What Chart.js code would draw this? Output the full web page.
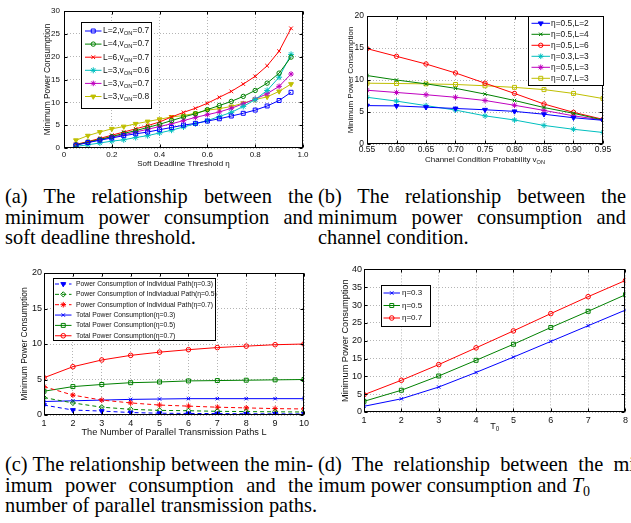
<!DOCTYPE html>
<html>
<head>
<meta charset="utf-8">
<script src="https://cdn.jsdelivr.net/npm/chart.js@4.4.1/dist/chart.umd.min.js"></script>
<style>
html,body{margin:0;padding:0;background:#fff;}
body{width:631px;height:523px;position:relative;overflow:hidden;}
canvas{position:absolute;}
.cap{position:absolute;font-family:"Liberation Serif","Times New Roman",serif;font-size:20.4px;line-height:20.5px;color:#000;}
.cap div{white-space:nowrap;}
.cap .j{text-align:justify;text-align-last:justify;white-space:normal;}
</style>
</head>
<body>
<canvas id="cA" width="315" height="172" style="left:0;top:0"></canvas>
<canvas id="cB" width="316" height="172" style="left:315px;top:0"></canvas>
<canvas id="cC" width="315" height="180" style="left:0;top:262px"></canvas>
<canvas id="cD" width="316" height="175" style="left:315px;top:262px"></canvas>

<div class="cap" style="left:5px;top:186px;width:308px">
  <div class="j">(a) The relationship between the</div>
  <div class="j">minimum power consumption and</div>
  <div>soft deadline threshold.</div>
</div>
<div class="cap" style="left:318px;top:186px;width:308px">
  <div class="j">(b) The relationship between the</div>
  <div class="j">minimum power consumption and</div>
  <div>channel condition.</div>
</div>
<div class="cap" style="left:5px;top:454px;width:308px">
  <div class="j">(c) The relationship between the min-</div>
  <div class="j">imum power consumption and the</div>
  <div>number of parallel transmission paths.</div>
</div>
<div class="cap" style="left:318px;top:454px;width:334px">
  <div class="j">(d) The relationship between the min-</div>
  <div>imum power consumption and <i>T</i><sub style="font-size:14px;vertical-align:-4px">0</sub></div>
</div>

<script>
// ===== DATA =====
// (a) soft deadline threshold
const etaA = [0.05,0.1,0.15,0.2,0.25,0.3,0.35,0.4,0.45,0.5,0.55,0.6,0.65,0.7,0.75,0.8,0.85,0.9,0.95];
const aL2v07 = [0.6,1.2,1.7,2.2,2.7,3.1,3.5,4.0,4.5,5.0,5.4,5.9,6.4,7.0,7.6,8.3,9.2,10.4,12.2];
const aL4v07 = [0.7,1.3,1.9,2.5,3.2,3.8,4.5,5.2,6.0,6.8,7.5,8.4,9.3,10.2,11.3,12.6,14.2,16.4,19.9];
const aL6v07 = [0.8,1.4,2.1,2.8,3.5,4.2,4.9,5.7,6.8,7.8,8.7,9.8,11.1,12.4,14.0,15.7,18.0,21.2,26.2];
const aL3v06 = [0.35,0.7,1.1,1.5,1.8,2.3,2.7,3.3,3.9,4.6,5.3,6.0,6.9,7.8,9.1,10.6,12.6,15.5,20.5];
const aL3v07 = [0.7,1.2,1.8,2.4,2.9,3.5,4.1,4.7,5.3,6.0,6.7,7.3,7.9,8.7,9.7,10.7,11.9,13.5,16.2];
const aL3v08 = [1.7,2.7,3.5,4.2,4.7,5.3,5.8,6.3,6.8,7.1,7.6,8.3,8.6,9.1,9.8,10.6,11.2,12.4,14.0];
const aLabels = ["L=2,v_{ON}=0.7","L=4,v_{ON}=0.7","L=6,v_{ON}=0.7","L=3,v_{ON}=0.6","L=3,v_{ON}=0.7","L=3,v_{ON}=0.8"];

// (b) channel condition probability
const vonB = [0.55,0.6,0.65,0.7,0.75,0.8,0.85,0.9,0.95];
const bE05L2 = [6.0,5.95,5.75,5.55,5.35,5.1,4.65,4.1,3.7];
const bE05L4 = [10.7,10.0,9.4,8.7,7.8,6.8,5.7,4.8,3.75];
const bE05L6 = [14.9,13.7,12.5,11.1,9.5,7.9,6.25,4.95,3.85];
const bE03L3 = [7.3,6.7,6.0,5.3,4.4,3.75,2.9,2.3,1.8];
const bE05L3 = [8.4,8.05,7.7,7.3,6.8,6.05,5.25,4.4,3.75];
const bE07L3 = [9.5,9.45,9.4,9.3,9.1,8.85,8.5,7.9,7.1];
const bLabels = ["η=0.5,L=2","η=0.5,L=4","η=0.5,L=6","η=0.3,L=3","η=0.5,L=3","η=0.7,L=3"];

// (c) number of parallel paths
const pathsC = [1,2,3,4,5,6,7,8,9,10];
const cInd03 = [1.4,0.7,0.55,0.35,0.25,0.22,0.2,0.17,0.16,0.15];
const cInd05 = [2.45,1.7,1.1,0.8,0.65,0.6,0.52,0.48,0.45,0.42];
const cInd07 = [4.0,2.8,2.1,1.7,1.4,1.25,1.1,1.0,0.9,0.85];
const cTot03 = [1.9,2.0,2.1,2.2,2.25,2.3,2.3,2.3,2.3,2.3];
const cTot05 = [3.35,4.0,4.3,4.55,4.65,4.8,4.85,4.9,4.95,5.0];
const cTot07 = [5.25,6.8,7.75,8.4,8.85,9.2,9.5,9.7,9.9,10.0];
const cLabels = ["Power Consumption of Individual Path(η=0.3)","Power Consumption of Indiviadual Path(η=0.5)","Power Consumption of Individual Path(η=0.7)","Total Power Consumption(η=0.3)","Total Power Consumption(η=0.5)","Total Power Consumption(η=0.7)"];

// (d) T0
const t0D = [1,2,3,4,5,6,7,8];
const dE03 = [1.6,3.7,7.0,11.1,15.4,19.8,24.2,28.6];
const dE05 = [3.0,6.1,10.1,14.5,19.0,23.7,28.25,32.9];
const dE07 = [4.85,8.9,13.3,18.0,22.75,27.6,32.35,36.9];
const dLabels = ["η=0.3","η=0.5","η=0.7"];

// ===== STYLES =====
const BLUE='#0000ff',GREEN='#008000',RED='#ff0000',CYAN='#00bfbf',MAG='#bf00bf',YEL='#bfbf00';
const FAM='"Liberation Sans", Arial, Helvetica, sans-serif';
Chart.defaults.font.family = FAM;
Chart.defaults.color = '#111';

function pts(xs, ys){ return xs.map((x,i)=>({x:x,y:ys[i]})); }

function series(label, xs, ys, color, style, opts){
  opts = opts || {};
  return {
    label: label, data: pts(xs, ys),
    borderColor: color, borderWidth: 1, borderDash: opts.dash || [],
    pointStyle: style, pointRadius: opts.r || 2.6, pointRotation: opts.rot || 0,
    pointBorderColor: color, pointBorderWidth: 1,
    pointBackgroundColor: opts.fill ? color : 'rgba(0,0,0,0)',
    tension: 0, fill: false
  };
}

// text with _{sub} parts
function richWidth(ctx, text, size){
  let w = 0;
  text.split(/(_\{[^}]*\})/).forEach(p=>{
    if(!p) return;
    if(p.startsWith('_{')){ ctx.font = (size*0.7)+'px '+FAM; w += ctx.measureText(p.slice(2,-1)).width; }
    else { ctx.font = size+'px '+FAM; w += ctx.measureText(p).width; }
  });
  return w;
}
function drawRich(ctx, x, y, text, size){
  text.split(/(_\{[^}]*\})/).forEach(p=>{
    if(!p) return;
    if(p.startsWith('_{')){
      const s = p.slice(2,-1);
      ctx.font = (size*0.7)+'px '+FAM; ctx.fillText(s, x, y+size*0.32); x += ctx.measureText(s).width;
    } else {
      ctx.font = size+'px '+FAM; ctx.fillText(p, x, y); x += ctx.measureText(p).width;
    }
  });
}

// ===== MATLAB-LIKE FRAME, X TITLE, LEGEND =====
const matlabFrame = {
  id: 'matlabFrame',
  afterDraw(chart, args, o){
    const {ctx, chartArea: a, scales} = chart;
    const ox = chart.canvas.offsetLeft, oy = chart.canvas.offsetTop;
    ctx.save();
    ctx.strokeStyle = '#000'; ctx.lineWidth = 1;
    const L = Math.round(a.left)+0.5, T = Math.round(a.top)+0.5, R = Math.round(a.right)-0.5, B = Math.round(a.bottom)-0.5;
    ctx.strokeRect(L, T, R-L, B-T);
    ctx.beginPath();
    scales.x.ticks.forEach(t=>{
      const px = Math.round(scales.x.getPixelForValue(t.value))+0.5;
      ctx.moveTo(px,B); ctx.lineTo(px,B-3); ctx.moveTo(px,T); ctx.lineTo(px,T+3);
    });
    scales.y.ticks.forEach(t=>{
      const py = Math.round(scales.y.getPixelForValue(t.value))+0.5;
      ctx.moveTo(L,py); ctx.lineTo(L+3,py); ctx.moveTo(R,py); ctx.lineTo(R-3,py);
    });
    ctx.stroke();

    // x title
    ctx.fillStyle = '#111'; ctx.textBaseline = 'middle'; ctx.textAlign = 'left';
    const w = richWidth(ctx, o.xTitle, o.xTitleSize);
    drawRich(ctx, (a.left+a.right)/2 - w/2, o.xTitleY - oy, o.xTitle, o.xTitleSize);

    // legend box
    const lg = o.legend;
    const bx = lg.x - ox, by = lg.y - oy;
    ctx.fillStyle = '#fff';
    ctx.fillRect(bx, by, lg.w, lg.h);
    ctx.strokeStyle = '#000';
    ctx.strokeRect(Math.round(bx)+0.5, Math.round(by)+0.5, Math.round(lg.w), Math.round(lg.h));
    chart.data.datasets.forEach((ds,i)=>{
      const cy = lg.firstY - oy + i*lg.rowH;
      const x0 = lg.lineX0 - ox, x1 = lg.lineX1 - ox;
      ctx.save();
      ctx.strokeStyle = ds.borderColor; ctx.lineWidth = 1; ctx.setLineDash(ds.borderDash);
      ctx.beginPath(); ctx.moveTo(x0, cy); ctx.lineTo(x1, cy); ctx.stroke();
      ctx.setLineDash([]);
      ctx.fillStyle = ds.pointBackgroundColor;
      Chart.helpers.drawPoint(ctx, {pointStyle: ds.pointStyle, radius: ds.pointRadius, rotation: ds.pointRotation, borderWidth: 1}, (x0+x1)/2, cy);
      ctx.restore();
      ctx.fillStyle = '#111'; ctx.textBaseline = 'middle'; ctx.textAlign = 'left';
      drawRich(ctx, lg.textX - ox, cy, lg.labels[i], lg.size);
    });
    ctx.restore();
  }
};

function gridOpts(){ return { color: '#b4b4b4', drawTicks: false, lineWidth: 1 }; }
function borderOpts(){ return { display: false, dash: [1,2] }; }

function makeChart(id, cfg){
  const cv = document.getElementById(id);
  const ox = cv.offsetLeft, oy = cv.offsetTop;
  const yW = cfg.plot.l - ox, xH = oy + cv.height - cfg.plot.b;
  const titleLH = cfg.yTitleSize*1.2;
  return new Chart(cv, {
    type: 'line',
    data: { datasets: cfg.datasets },
    options: {
      responsive: false, animation: false,
      layout: { padding: { left: 0, top: cfg.plot.t - oy, right: ox + cv.width - cfg.plot.r, bottom: 0 } },
      plugins: { legend: { display: false }, tooltip: { enabled: false }, matlabFrame: cfg.frame },
      scales: {
        x: {
          type: 'linear', min: cfg.x.min, max: cfg.x.max,
          grid: gridOpts(), border: borderOpts(),
          ticks: { stepSize: cfg.x.step, autoSkip: false, maxRotation: 0, padding: cfg.x.pad, font: { size: cfg.tickSize }, color: '#111' },
          afterFit: s => { s.height = xH; }
        },
        y: {
          min: cfg.y.min, max: cfg.y.max,
          grid: gridOpts(), border: borderOpts(),
          ticks: { stepSize: cfg.y.step, padding: cfg.y.pad, font: { size: cfg.tickSize }, color: '#111' },
          title: { display: true, text: 'Minimum Power Consumption', font: { size: cfg.yTitleSize }, color: '#111',
                   padding: { top: cfg.yTitleX - ox - titleLH/2, bottom: 0 } },
          afterFit: s => { s.width = yW; }
        }
      }
    },
    plugins: [matlabFrame]
  });
}

// ===== (a) =====
makeChart('cA', {
  plot: { l: 64, t: 11, r: 303, b: 148 },
  x: { min: 0, max: 1, step: 0.2, pad: 2 }, y: { min: 0, max: 30, step: 5, pad: 4 },
  tickSize: 8, yTitleSize: 8.4, yTitleX: 47.5,
  datasets: [
    series('L=2,v_ON=0.7', etaA, aL2v07, BLUE, 'rect', { r: 2.8 }),
    series('L=4,v_ON=0.7', etaA, aL4v07, GREEN, 'circle', { r: 2.2 }),
    series('L=6,v_ON=0.7', etaA, aL6v07, RED, 'crossRot', { r: 2.6 }),
    series('L=3,v_ON=0.6', etaA, aL3v06, CYAN, 'star', { r: 3, fill: true }),
    series('L=3,v_ON=0.7', etaA, aL3v07, MAG, 'star', { r: 2.8, fill: true }),
    series('L=3,v_ON=0.8', etaA, aL3v08, YEL, 'triangle', { r: 2.8, rot: 180, fill: true })
  ],
  frame: { xTitle: 'Soft Deadline Threshold η', xTitleSize: 8, xTitleY: 163.5,
    legend: { x: 81, y: 22, w: 70, h: 86, firstY: 31, rowH: 13.1, lineX0: 85, lineX1: 101.5, textX: 103, size: 8.4, labels: aLabels } }
});

// ===== (b) =====
makeChart('cB', {
  plot: { l: 367, t: 16, r: 603, b: 144 },
  x: { min: 0.55, max: 0.95, step: 0.05, pad: 1 }, y: { min: 0, max: 20, step: 5, pad: 3 },
  tickSize: 8.5, yTitleSize: 8, yTitleX: 350.5,
  datasets: [
    series('η=0.5,L=2', vonB, bE05L2, BLUE, 'triangle', { r: 2.8, rot: 180, fill: true }),
    series('η=0.5,L=4', vonB, bE05L4, GREEN, 'crossRot', { r: 2.4 }),
    series('η=0.5,L=6', vonB, bE05L6, RED, 'circle', { r: 2.2 }),
    series('η=0.3,L=3', vonB, bE03L3, CYAN, 'star', { r: 2.8 }),
    series('η=0.5,L=3', vonB, bE05L3, MAG, 'star', { r: 2.8, fill: true }),
    series('η=0.7,L=3', vonB, bE07L3, YEL, 'rect', { r: 2.8 })
  ],
  frame: { xTitle: 'Channel Condition Probability v_{ON}', xTitleSize: 8, xTitleY: 159.5,
    legend: { x: 528, y: 16, w: 75, h: 69, firstY: 23.3, rowH: 11, lineX0: 531.5, lineX1: 550, textX: 551, size: 8.4, labels: bLabels } }
});

// ===== (c) =====
makeChart('cC', {
  plot: { l: 44, t: 273, r: 304, b: 415 },
  x: { min: 1, max: 10, step: 1, pad: 3 }, y: { min: 0, max: 20, step: 5, pad: 2 },
  tickSize: 9, yTitleSize: 8.5, yTitleX: 25,
  datasets: [
    series('Individual 0.3', pathsC, cInd03, BLUE, 'triangle', { r: 2.8, rot: 180, fill: true, dash: [4,3] }),
    series('Individual 0.5', pathsC, cInd05, GREEN, 'rectRot', { r: 2.6, dash: [4,3] }),
    series('Individual 0.7', pathsC, cInd07, RED, 'star', { r: 2.8, fill: true, dash: [4,3] }),
    series('Total 0.3', pathsC, cTot03, BLUE, 'crossRot', { r: 2.4 }),
    series('Total 0.5', pathsC, cTot05, GREEN, 'rect', { r: 2.8 }),
    series('Total 0.7', pathsC, cTot07, RED, 'circle', { r: 2.3 })
  ],
  frame: { xTitle: 'The Number of Parallel Transmission Paths L', xTitleSize: 9.2, xTitleY: 432.5,
    legend: { x: 53, y: 278, w: 162, h: 62, firstY: 284, rowH: 10.35, lineX0: 55, lineX1: 71.5, textX: 76, size: 6.8, labels: cLabels } }
});

// ===== (d) =====
makeChart('cD', {
  plot: { l: 364, t: 269, r: 628, b: 412 },
  x: { min: 1, max: 8, step: 1, pad: 3 }, y: { min: 0, max: 40, step: 5, pad: 2 },
  tickSize: 9, yTitleSize: 9.2, yTitleX: 345,
  datasets: [
    series('η=0.3', t0D, dE03, BLUE, 'crossRot', { r: 2.4 }),
    series('η=0.5', t0D, dE05, GREEN, 'rect', { r: 2.8 }),
    series('η=0.7', t0D, dE07, RED, 'circle', { r: 2.3 })
  ],
  frame: { xTitle: 'T_{0}', xTitleSize: 9, xTitleY: 426.5,
    legend: { x: 381, y: 285, w: 49, h: 41, firstY: 293, rowH: 12.5, lineX0: 383.5, lineX1: 400, textX: 402, size: 8, labels: dLabels } }
});
</script>
</body>
</html>
